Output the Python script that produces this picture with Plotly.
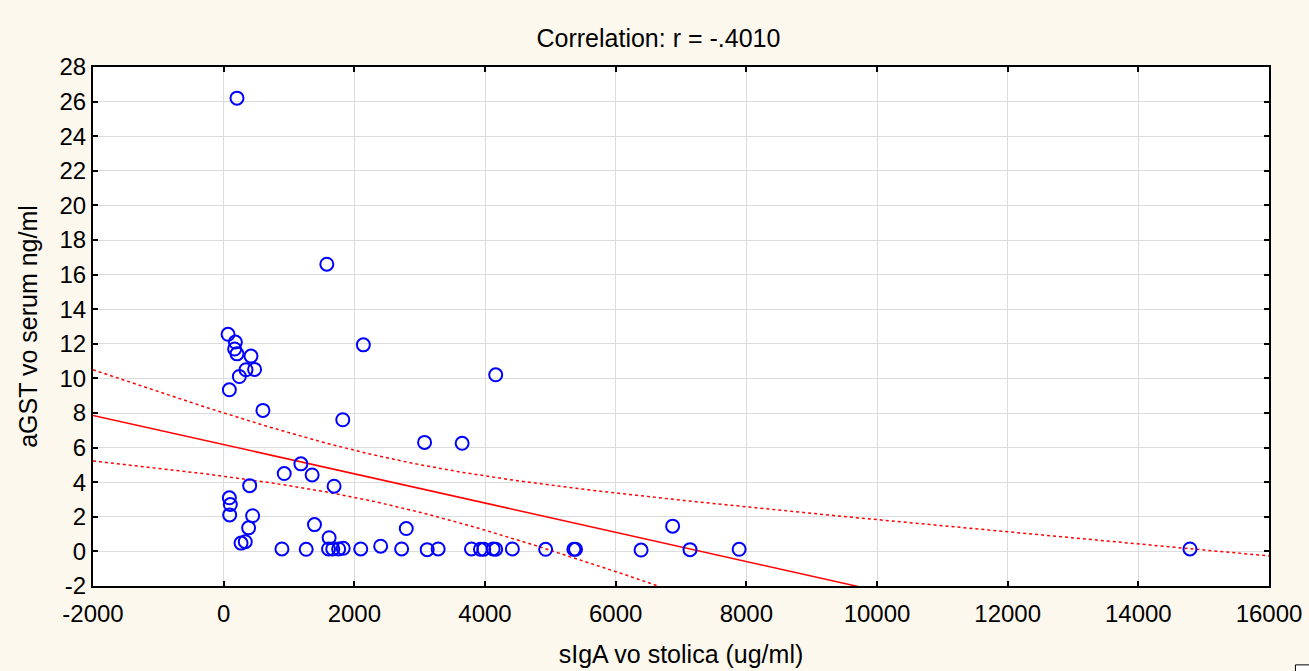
import numpy as np
import plotly.graph_objects as go

# sIgA in stool (ug/ml)
siga = [204, 1579, 67, 179, 168, 204, 418, 342, 473, 240, 87, 2138, 4164, 601, 1823,
        3075, 3650, 1182, 927, 1354, 1690, 398, 87, 102, 92, 443, 382, 1390, 2795,
        266, 331, 1614, 892, 1263, 1605, 1670, 1760, 1830, 2098, 2403, 2724, 3115,
        3283, 3793, 3930, 3981, 4124, 4164, 4419, 4928, 5360, 5386, 6389, 6872,
        7138, 7890, 14790]
# aGST in serum (ng/ml)
agst = [26.2, 16.6, 12.55, 12.1, 11.7, 11.42, 11.29, 10.5, 10.52, 10.11, 9.34, 11.94,
        10.21, 8.15, 7.61, 6.3, 6.25, 5.06, 4.5, 4.42, 3.77, 3.8, 3.1, 2.71, 2.11,
        2.06, 1.36, 1.55, 1.32, 0.48, 0.56, 0.79, 0.14, 0.12, 0.14, 0.14, 0.14,
        0.18, 0.14, 0.3, 0.14, 0.1, 0.14, 0.14, 0.12, 0.12, 0.14, 0.12, 0.14, 0.12,
        0.12, 0.12, 0.08, 1.46, 0.1, 0.12, 0.14]

x_ticks = [-2000, 0, 2000, 4000, 6000, 8000, 10000, 12000, 14000, 16000]
y_ticks = [-2, 0, 2, 4, 6, 8, 10, 12, 14, 16, 18, 20, 22, 24, 26, 28]
t_crit = 2.004  # 95%, df = n - 2
title_text = "Correlation: r = -.4010"

x = np.array(siga, float)
y = np.array(agst, float)
n = len(x)
slope, intercept = np.polyfit(x, y, 1)
resid = y - (intercept + slope * x)
s = np.sqrt(np.sum(resid ** 2) / (n - 2))
xbar = x.mean()
sxx = np.sum((x - xbar) ** 2)

xs = np.linspace(x_ticks[0], x_ticks[-1], 400)
yhat = intercept + slope * xs
half = t_crit * s * np.sqrt(1.0 / n + (xs - xbar) ** 2 / sxx)

red = "#FF0000"
FONT = "Arial, Liberation Sans, sans-serif"
fig = go.Figure()
fig.add_trace(go.Scatter(x=xs, y=yhat + half, mode="lines",
                         line=dict(color=red, width=1.5, dash="dot"), hoverinfo="skip"))
fig.add_trace(go.Scatter(x=xs, y=yhat - half, mode="lines",
                         line=dict(color=red, width=1.5, dash="dot"), hoverinfo="skip"))
fig.add_trace(go.Scatter(x=xs, y=yhat, mode="lines",
                         line=dict(color=red, width=1.5), hoverinfo="skip"))
fig.add_trace(go.Scatter(x=x, y=y, mode="markers",
                         marker=dict(symbol="circle-open", size=13, color="#0000FF",
                                     line=dict(width=2, color="#0000FF"))))

axis_common = dict(showline=True, linecolor="black", linewidth=2, mirror="ticks",
                   ticks="inside", ticklen=5, tickcolor="black", tickwidth=2,
                   showgrid=True, gridcolor="#DCDCDC", gridwidth=1, zeroline=False,
                   automargin=False,
                   tickfont=dict(family=FONT, size=24, color="black"),
                   title_font=dict(family=FONT, size=25, color="black"))

fig.update_layout(
    width=1309, height=671,
    showlegend=False,
    paper_bgcolor="#FDF8EE", plot_bgcolor="white",
    margin=dict(l=93, r=40, t=67, b=85),
    title=dict(text=title_text, x=0.503, xanchor="center", y=0.943, yanchor="middle",
               font=dict(family=FONT, size=25, color="black")),
    xaxis=dict(range=[x_ticks[0], x_ticks[-1]], tickvals=x_ticks,
               ticktext=[str(v) for v in x_ticks], ticklabelstandoff=5,
               title=dict(text="sIgA vo stolica (ug/ml)", standoff=20), **axis_common),
    yaxis=dict(range=[y_ticks[0], y_ticks[-1]], tickvals=y_ticks,
               ticktext=[str(v) for v in y_ticks],
               title=dict(text="aGST vo serum ng/ml", standoff=15), **axis_common),
    shapes=[dict(type="rect", xref="paper", yref="paper", x0=1.0225, x1=1.036,
                 y0=-0.152, y1=-0.2, line=dict(color="black", width=1),
                 fillcolor="white")],
)

fig.write_html("out.html")
